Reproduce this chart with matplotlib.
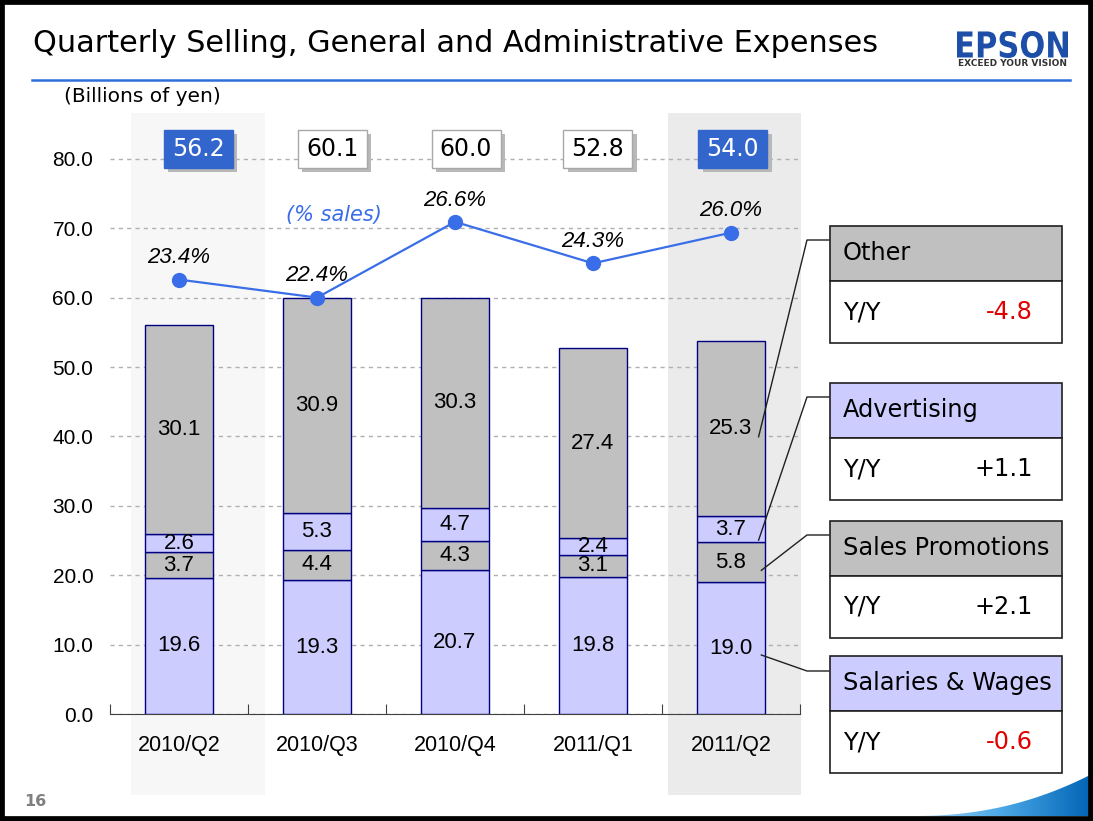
import numpy as np
import matplotlib
matplotlib.use("Agg")
import matplotlib.pyplot as plt
from matplotlib.patches import Rectangle, Polygon, PathPatch
from matplotlib.lines import Line2D
from matplotlib.textpath import TextPath
from matplotlib.font_manager import FontProperties
from matplotlib.transforms import Affine2D

# data
quarters = ["2010/Q2", "2010/Q3", "2010/Q4", "2011/Q1", "2011/Q2"]
salaries = [19.6, 19.3, 20.7, 19.8, 19.0]
sales_promo = [3.7, 4.4, 4.3, 3.1, 5.8]
advertising = [2.6, 5.3, 4.7, 2.4, 3.7]
other = [30.1, 30.9, 30.3, 27.4, 25.3]
totals = [56.2, 60.1, 60.0, 52.8, 54.0]
pct_sales = [23.4, 22.4, 26.6, 24.3, 26.0]
yy_names = ["Other", "Advertising", "Sales Promotions", "Salaries & Wages"]
yy_values = ["-4.8", "+1.1", "+2.1", "-0.6"]

W, H = 1093, 821
LAV = "#ccccff"
GRAY = "#c0c0c0"
EDGE = "#000080"
BLUE = "#3366cc"

fig = plt.figure(figsize=(W / 100, H / 100), dpi=100)


def px(x, y):
    return x / W, 1 - y / H


ax = fig.add_axes([110 / W, 1 - 714 / H, 690 / W, 601 / H])
ax.set_xlim(-0.5, 4.5)
ax.set_ylim(0, 86.6)
x = np.arange(len(quarters))

# shaded columns for the two Q2s
ax.add_patch(Rectangle((-0.35, -11.7), 0.97, 98.3, fc="#f7f7f7", ec="none",
                       clip_on=False, zorder=0))
ax.add_patch(Rectangle((3.54, -11.7), 0.97, 98.3, fc="#ebebeb", ec="none",
                       clip_on=False, zorder=0))

# stacked bars
bottom = np.zeros(len(x))
segments = [(salaries, LAV), (sales_promo, GRAY), (advertising, LAV), (other, GRAY)]
label_y = []
for vals, col in segments:
    vals = np.array(vals)
    ax.bar(x, vals, 0.49, bottom=bottom, color=col, edgecolor=EDGE, linewidth=1, zorder=3)
    mids = bottom + vals / 2
    label_y.append(mids)
    for xi, m, v in zip(x, mids, vals):
        ax.text(xi, m, f"{v:.1f}", ha="center", va="center", fontsize=16,
                family="Liberation Sans", zorder=5)
    bottom = bottom + vals

# axes styling
for s in ["left", "right", "top"]:
    ax.spines[s].set_visible(False)
ax.spines["bottom"].set_color("#404040")
ax.set_yticks(np.arange(0, 81, 10))
ax.set_yticklabels([f"{v:.1f}" for v in np.arange(0, 81, 10)], family="Liberation Sans",
                   fontsize=15)
ax.tick_params(axis="y", length=0, pad=12)
ax.set_xticks(np.arange(-0.5, 4.6, 1))
ax.set_xticklabels([])
ax.tick_params(axis="x", which="major", direction="in", length=7, color="#404040")
ax.set_xticks(x, minor=True)
ax.set_xticklabels(quarters, minor=True, family="Liberation Sans", fontsize=15.5)
ax.tick_params(axis="x", which="minor", length=0, pad=15)
ax.yaxis.grid(True, linestyle=(0, (3, 3)), color="#b0b0b0", linewidth=1, zorder=1)
ax.set_axisbelow(True)

# total boxes (slightly shifted right of each bar, as on the slide)
box_dx = [0.138, 0.109, 0.08, 0.036, 0.014]
for xi, (t, dx) in enumerate(zip(totals, box_dx)):
    hi = xi in (0, 4)
    cx = xi + dx
    ax.add_patch(Rectangle((cx - 0.25 + 0.03, 78.65 - 0.58), 0.5, 5.5, fc="#b8b8b8",
                           ec="none", zorder=4, clip_on=False))
    ax.add_patch(Rectangle((cx - 0.25, 78.65), 0.5, 5.5, fc=BLUE if hi else "white",
                           ec=BLUE if hi else "#a8a8a8", lw=1, zorder=4, clip_on=False))
    ax.text(cx, 81.4, f"{t:.1f}", ha="center", va="center", fontsize=17,
            color="white" if hi else "black", family="DejaVu Sans", zorder=5)

# % sales line on a secondary scale
ax2 = ax.twinx()
ax2.set_ylim(22.4 - 60 / 2.6, 22.4 + (86.6 - 60) / 2.6)
ax2.axis("off")
ax2.plot(x, pct_sales, color="#3a6ee8", lw=1.6, marker="o", ms=10, zorder=6)
for xi, p in zip(x, pct_sales):
    ax2.text(xi, p + 1.2, f"{p:.1f}%", ha="center", va="center", fontsize=16,
             style="italic", family="Liberation Sans")
ax2.text(1.12, 22.4 + (71.9 - 60) / 2.6, "(% sales)", ha="center", va="center",
         fontsize=15, style="italic", color="#3a6ee8", family="DejaVu Sans")

# title area
fig.text(*px(33, 44), "Quarterly Selling, General and Administrative Expenses",
         fontsize=21.8, va="center", ha="left", family="DejaVu Sans")
fig.add_artist(Line2D([32 / W, 1070 / W], [1 - 80 / H] * 2, color="#2f6fd8", lw=1.8))
fig.text(*px(64, 97), "(Billions of yen)", fontsize=14.5, va="center", family="DejaVu Sans")
fig.text(*px(24, 801), "16", fontsize=11.5, va="center", color="#7f7f7f",
         fontweight="bold", family="DejaVu Sans")

# EPSON logo
fp = FontProperties(family="DejaVu Sans", weight="heavy")
tp = TextPath((0, 0), "EPSON", size=1, prop=fp)
ext = tp.get_extents()
sx = 111 / ext.width
sy = 27 / ext.height
tr = Affine2D().translate(-ext.x0, -ext.y0).scale(sx, sy).translate(957, H - 58)
fig.add_artist(PathPatch(tr.transform_path(tp), fc="#1d4fa8", ec="none",
                         transform=None))
fig.text(*px(1012, 64), "EXCEED YOUR VISION", fontsize=6.5, ha="center", va="center",
         fontweight="bold", color="#333333", family="DejaVu Sans")

# legend panels on the right
panel_tops = [226, 383, 521, 656]
panel_cols = [GRAY, LAV, GRAY, LAV]
for name, val, top, col in zip(yy_names, yy_values, panel_tops, panel_cols):
    x0, x1 = 830, 1062
    mid = top + 55
    bot = top + 117
    fig.add_artist(Rectangle(px(x0, mid), (x1 - x0) / W, 55 / H, transform=fig.transFigure,
                             fc=col, ec="#202020", lw=1.2))
    fig.add_artist(Rectangle(px(x0, bot), (x1 - x0) / W, (bot - mid) / H,
                             transform=fig.transFigure, fc="white", ec="#202020", lw=1.2))
    fig.text(*px(843, top + 27), name, fontsize=17.3, va="center", family="DejaVu Sans")
    fig.text(*px(843, (mid + bot) / 2), "Y/Y", fontsize=17.3, va="center",
             family="DejaVu Sans")
    fig.text(*px(1033, (mid + bot) / 2), val, fontsize=17.3, va="center", ha="right",
             color="#e00000" if val.startswith("-") else "black", family="DejaVu Sans")

# leader lines from the 2011/Q2 segment labels to the panels
starts = [(4.2, label_y[3][4] - 1.2), (4.2, label_y[2][4] - 1.6),
          (4.22, label_y[1][4] - 1.2), (4.22, label_y[0][4] - 1.0)]
elbows = [240, 397, 535, 671]
inv = fig.transFigure.inverted()
for (sxd, syd), ey in zip(starts, elbows):
    p0 = inv.transform(ax.transData.transform((sxd, syd)))
    p1 = px(807, ey)
    p2 = px(829, ey)
    fig.add_artist(Line2D([p0[0], p1[0], p2[0]], [p0[1], p1[1], p2[1]],
                          color="#202020", lw=1))

# blue swoosh bottom right
sw = fig.add_axes([912 / W, 0, 181 / W, 50 / H])
sw.set_xlim(912, 1093)
sw.set_ylim(821, 771)
sw.axis("off")
grad = np.linspace(0, 1, 256)[None, :]
img = sw.imshow(grad, extent=[912, 1093, 821, 771], aspect="auto",
                cmap=matplotlib.colors.LinearSegmentedColormap.from_list(
                    "sw", ["#a8d8f8", "#4aa8e6", "#0062b4"]))
xs = np.linspace(912, 1090, 60)
ys = 816 - 41 * ((xs - 912) / 178) ** 2.2
poly = Polygon(np.column_stack([np.r_[xs, 1090, 912], np.r_[ys, 816, 816]]),
               closed=True, transform=sw.transData, fc="none", ec="none")
sw.add_patch(poly)
img.set_clip_path(poly)

# slide frame
fig.add_artist(Rectangle((0, 0), 1, 1, transform=fig.transFigure, fc="none",
                         ec="black", lw=7))

fig.savefig("out.png", dpi=100)
